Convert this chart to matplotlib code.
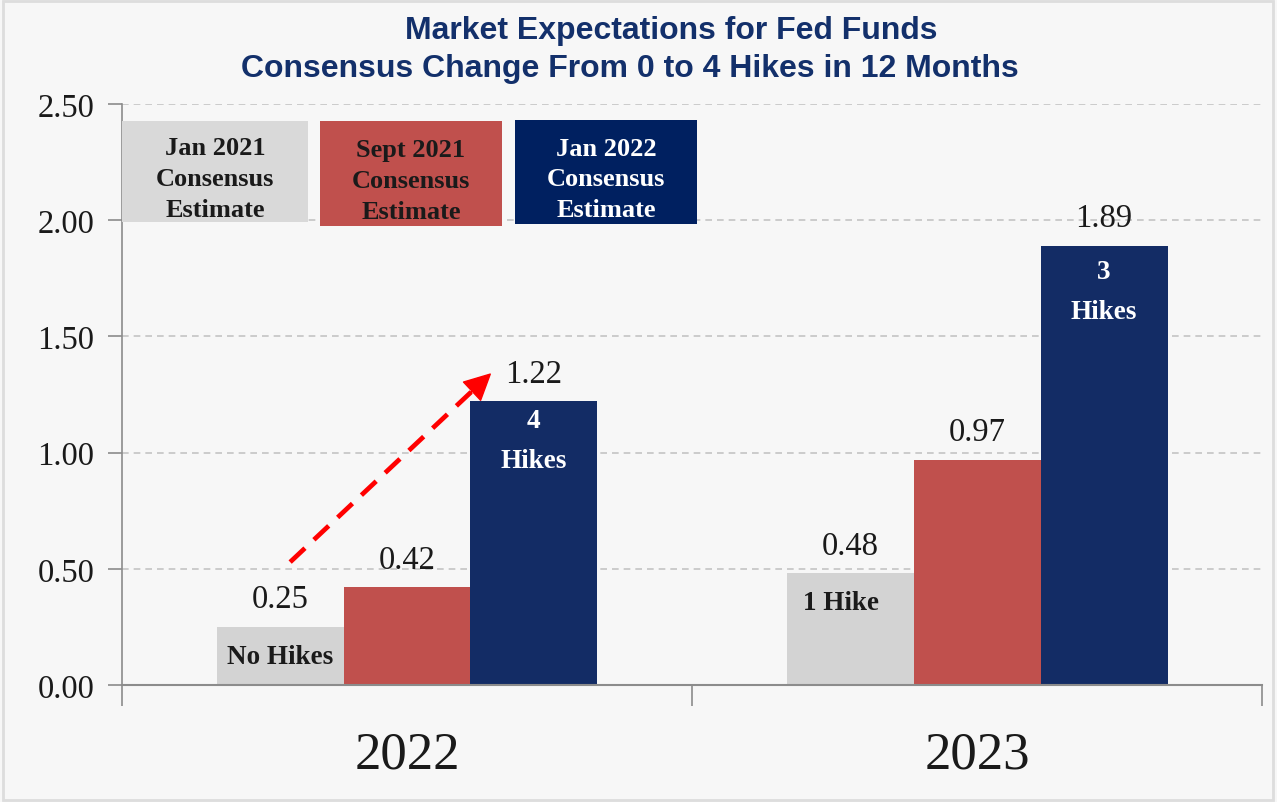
import numpy as np
import matplotlib.pyplot as plt
from matplotlib.patches import Rectangle

years = ['2022', '2023']
jan21 = [0.25, 0.48]
sep21 = [0.42, 0.97]
jan22 = [1.22, 1.89]
series_names = ['Jan 2021\nConsensus\nEstimate', 'Sept 2021\nConsensus\nEstimate', 'Jan 2022\nConsensus\nEstimate']
bar_colors = ['#D3D3D3', '#C0504D', '#132C65']
box_colors = ['#D9D9D9', '#C0504D', '#002060']
box_text_colors = ['#1A1A1A', '#1A1A1A', 'white']
# notes written inside bars: (series index, year index) -> text
notes = {(0, 0): 'No Hikes', (0, 1): '1 Hike', (2, 0): '4\nHikes', (2, 1): '3\nHikes'}
note_offsets = {(0, 0): (0, -21), (0, 1): (-6.5, -21), (2, 0): (0, -28), (2, 1): (0, -33)}

serif = 'Liberation Serif'
navy = '#13306B'

fig = plt.figure(figsize=(12.77, 8.03), dpi=100, facecolor='#F7F7F7')
fig.patches.append(Rectangle((0.002, 0.003), 0.995, 0.994, transform=fig.transFigure,
                             fill=False, edgecolor='#DDDDDD', lw=2))

ax = fig.add_axes([0.0955, 0.1457, 0.893, 0.7235])
ax.set_facecolor('#F7F7F7')

x = np.arange(len(years))
w = 0.2225
for i, vals in enumerate([jan21, sep21, jan22]):
    xs = x + (i - 1) * w
    ax.bar(xs, vals, width=w, color=bar_colors[i], zorder=2)
    for j, v in enumerate(vals):
        ax.annotate(f'{v:.2f}', (xs[j], v), xytext=(0, 20), textcoords='offset points',
                    ha='center', va='center', fontsize=23.5, family=serif, color='#1A1A1A')
        if (i, j) in notes:
            col = 'white' if i == 2 else '#1A1A1A'
            ax.annotate(notes[(i, j)], (xs[j], v), xytext=note_offsets[(i, j)],
                        textcoords='offset points', ha='center', va='center', fontsize=19.5,
                        family=serif, fontweight='bold', color=col, linespacing=1.75)

# legend boxes
boxes = [(0.0, 0.163, 2.427, 1.992), (0.1737, 0.3333, 2.427, 1.975), (0.3447, 0.5044, 2.431, 1.984)]
for k, (x0, x1, y1, y0) in enumerate(boxes):
    ax.add_patch(Rectangle((x0, y0 / 2.5), x1 - x0, (y1 - y0) / 2.5, transform=ax.transAxes,
                           facecolor=box_colors[k], edgecolor='none', zorder=3))
    ax.text((x0 + x1) / 2, (y0 + y1) / 2 / 2.5 - 0.012, series_names[k], transform=ax.transAxes,
            ha='center', va='center', fontsize=19, family=serif, fontweight='bold',
            color=box_text_colors[k], linespacing=1.42, zorder=4)

# dashed arrow from the Jan 2021 to the Jan 2022 estimate
start = (-0.205, 0.529)
end = (0.146, 1.338)
ax.plot([start[0], end[0] - 0.03], [start[1], end[1] - 0.069], color='#FF0000', lw=3.4,
        dashes=(4.3, 2.6), zorder=5)
ax.annotate('', xy=end, xytext=(end[0] - 0.04, end[1] - 0.092),
            arrowprops=dict(facecolor='#FF0000', edgecolor='#FF0000', width=0.1,
                            headwidth=18, headlength=18), zorder=5)

ax.set_xlim(-0.5, 1.5)
ax.set_ylim(0, 2.5)
ticks = np.arange(0, 2.51, 0.5)
ax.set_yticks(ticks)
ax.set_yticklabels([f'{t:.2f}' for t in ticks], family=serif, fontsize=23.5)
ax.yaxis.grid(True, color='#C4C4C4', linestyle=(0, (4, 3)), lw=1.2, zorder=0)
ax.set_axisbelow(True)

ax.set_xticks([-0.5, 0.5, 1.5])
ax.set_xticklabels([])
ax.tick_params(axis='x', length=15, color='#8C8C8C', width=1.2)
ax.tick_params(axis='y', length=10, color='#8C8C8C', width=1.2, pad=10, labelcolor='#1A1A1A')
for j, yr in enumerate(years):
    ax.text(j, -0.3, yr, ha='center', va='center', fontsize=38, family=serif, color='#1A1A1A')

for s in ['top', 'right']:
    ax.spines[s].set_visible(False)
ax.spines['left'].set_color('#8C8C8C')
ax.spines['bottom'].set_color('#8C8C8C')
ax.spines['left'].set_linewidth(1.2)
ax.spines['bottom'].set_linewidth(1.5)

fig.text(671 / 1277, 1 - 31 / 803, 'Market Expectations for Fed Funds', ha='center', va='center',
         fontsize=23, fontweight='bold', family='Liberation Sans', color=navy)
fig.text(630 / 1277, 1 - 69 / 803, 'Consensus Change From 0 to 4 Hikes in 12 Months', ha='center',
         va='center', fontsize=23, fontweight='bold', family='Liberation Sans', color=navy)

fig.savefig('out.png', dpi=100, facecolor=fig.get_facecolor())
